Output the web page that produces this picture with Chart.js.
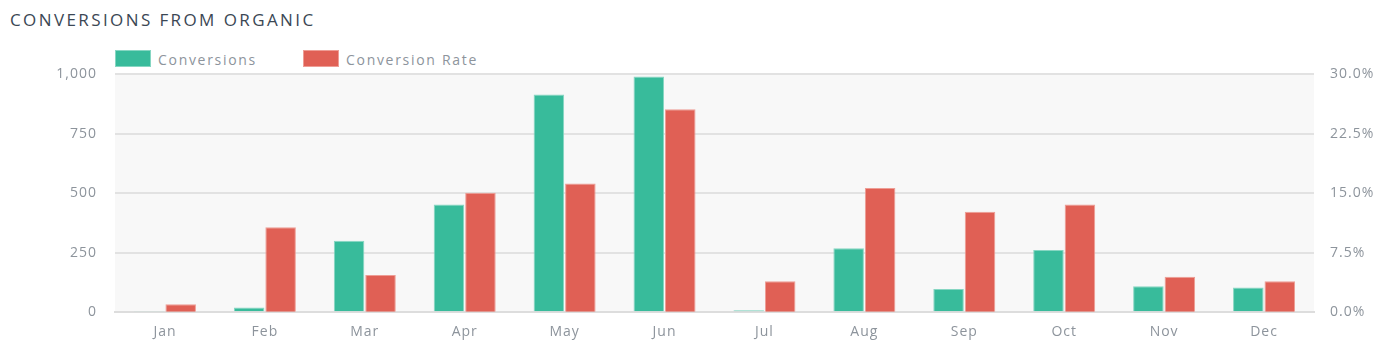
<!DOCTYPE html>
<html>
<head>
<meta charset="utf-8">
<script src="https://cdn.jsdelivr.net/npm/chart.js@4"></script>
<style>
  body { margin: 0; background: #fff; }
  #wrap { position: relative; width: 1391px; height: 347px; font-family: "Open Sans", sans-serif; }
  #title {
    position: absolute; left: 10px; top: 8px;
    font-size: 17px; letter-spacing: 2.4px; color: #3b4754;
  }
  #legend { position: absolute; left: 115px; top: 49px; display: flex; }
  .item { display: flex; align-items: center; margin-right: 46px; }
  .box { width: 34px; height: 15px; margin-right: 7px; }
  .label { font-size: 14px; letter-spacing: 1.7px; color: #8d949c; line-height: 17px; padding-top: 2px; }
  canvas { position: absolute; left: 0; top: 0; }
</style>
</head>
<body>
<div id="wrap">
  <div id="title">CONVERSIONS FROM ORGANIC</div>
  <div id="legend"></div>
  <canvas id="chart" width="1391" height="347"></canvas>
</div>
<script>
// data
const months = ["Jan", "Feb", "Mar", "Apr", "May", "Jun", "Jul", "Aug", "Sep", "Oct", "Nov", "Dec"];
const conversions = [3, 20, 300, 452, 914, 990, 8, 268, 97, 261, 109, 104];
const conversionRate = [1.0, 10.7, 4.7, 15.05, 16.2, 25.55, 3.9, 15.65, 12.65, 13.55, 4.45, 3.9];
const leftTicks = [0, 250, 500, 750, 1000];
const rightTicks = [0, 7.5, 15, 22.5, 30];

const green = "#38bb9b";
const red = "#e06055";
const tickColor = "#8d949c";
const gridColor = "#e2e2e2";

// plot background + letter spacing for canvas text
const plotBg = {
  id: "plotBg",
  beforeLayout(chart) { chart.ctx.letterSpacing = "1px"; },
  beforeDraw(chart) {
    const { ctx, chartArea: a } = chart;
    ctx.letterSpacing = "1px";
    ctx.save();
    ctx.fillStyle = "#f8f8f8";
    ctx.fillRect(a.left, a.top, a.right - a.left, a.bottom - a.top);
    ctx.restore();
  }
};

const chart = new Chart(document.getElementById("chart"), {
  type: "bar",
  data: {
    labels: months,
    datasets: [
      {
        label: "Conversions",
        data: conversions,
        yAxisID: "y",
        backgroundColor: green,
        borderColor: "#86d6c2",
        borderWidth: 1,
        categoryPercentage: 0.63,
        barPercentage: 0.97,
      },
      {
        label: "Conversion Rate",
        data: conversionRate,
        yAxisID: "y1",
        backgroundColor: red,
        borderColor: "#ee9d95",
        borderWidth: 1,
        categoryPercentage: 0.63,
        barPercentage: 0.97,
      },
    ],
  },
  options: {
    responsive: false,
    animation: false,
    layout: { padding: { top: 74, left: 0, right: 0, bottom: 4 } },
    plugins: {
      legend: { display: false },
      tooltip: { enabled: false },
    },
    font: { family: "'Open Sans', sans-serif" },
    scales: {
      x: {
        grid: { display: false },
        border: { color: "#dddddd", width: 2 },
        ticks: { color: tickColor, font: { size: 14, family: "'Open Sans', sans-serif" }, padding: 3 },
      },
      y: {
        position: "left",
        min: 0,
        max: 1000,
        afterBuildTicks: (s) => { s.ticks = leftTicks.map((v) => ({ value: v })); },
        afterFit: (s) => { s.width = 115; },
        grid: { color: gridColor, lineWidth: 2, drawTicks: false },
        border: { display: false },
        ticks: {
          color: tickColor,
          padding: 18,
          font: { size: 14, family: "'Open Sans', sans-serif" },
          callback: (v) => v.toLocaleString("en-US"),
        },
      },
      y1: {
        position: "right",
        min: 0,
        max: 30,
        afterBuildTicks: (s) => { s.ticks = rightTicks.map((v) => ({ value: v })); },
        afterFit: (s) => { s.width = 77; },
        grid: { drawOnChartArea: false, drawTicks: false },
        border: { display: false },
        ticks: {
          color: tickColor,
          padding: 16,
          font: { size: 14, family: "'Open Sans', sans-serif" },
          callback: (v) => v.toFixed(1) + "%",
        },
      },
    },
  },
  plugins: [plotBg],
});

// html legend from the chart's datasets
const legend = document.getElementById("legend");
chart.data.datasets.forEach((ds) => {
  const item = document.createElement("div");
  item.className = "item";
  const box = document.createElement("div");
  box.className = "box";
  box.style.background = ds.backgroundColor;
  box.style.border = "1px solid " + ds.borderColor;
  const label = document.createElement("span");
  label.className = "label";
  label.textContent = ds.label;
  item.appendChild(box);
  item.appendChild(label);
  legend.appendChild(item);
});
</script>
</body>
</html>
